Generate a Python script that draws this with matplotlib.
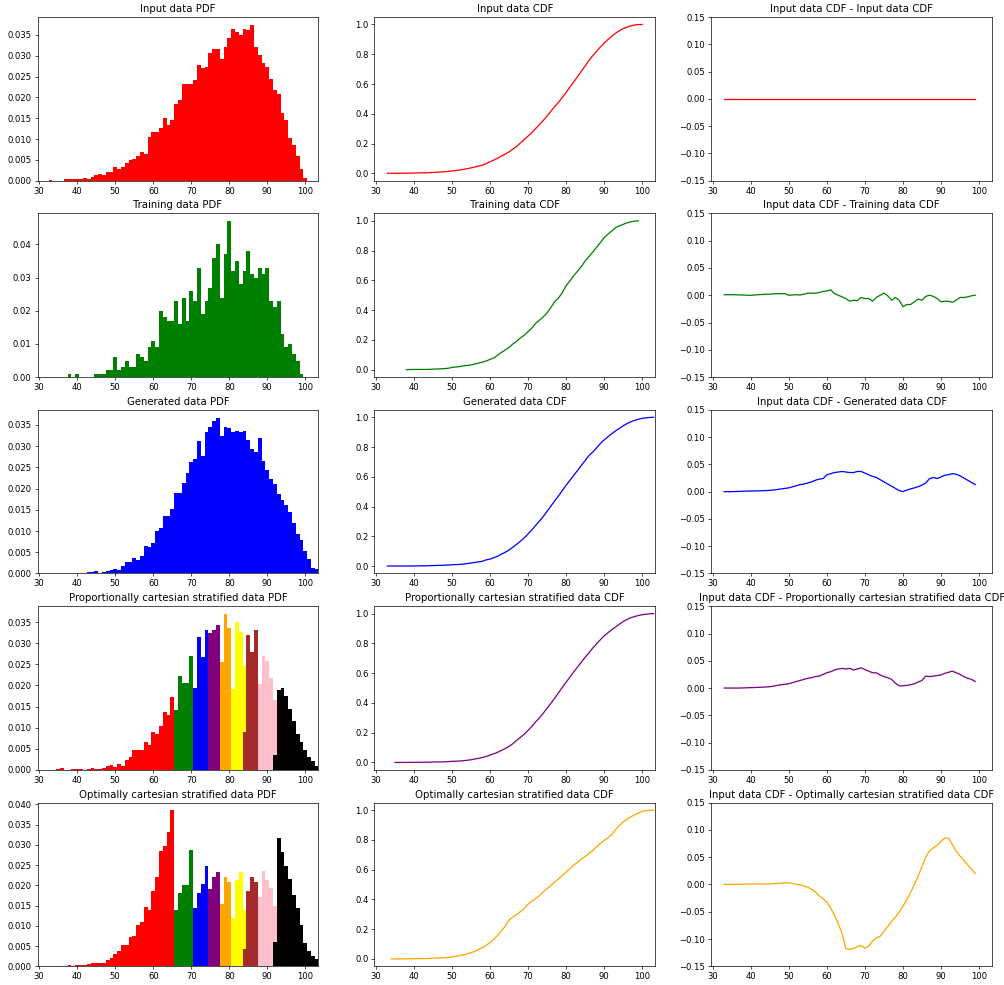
import numpy as np
import matplotlib
matplotlib.use("Agg")
import matplotlib.pyplot as plt

# ---------------------------------------------------------------------------
# Histogram heights (density per unit-wide bin centred on integer scores)
# ---------------------------------------------------------------------------
input_start = 33
input_pdf = [0.0002, 0.0, 0.0, 0.0, 0.0003, 0.0003, 0.0005, 0.0004, 0.0005, 0.0006,
             0.0005, 0.0010, 0.0014, 0.0016, 0.0014, 0.0020, 0.0020, 0.0032, 0.0028, 0.0034,
             0.0042, 0.0050, 0.0052, 0.0060, 0.0068, 0.0065, 0.0105, 0.0118, 0.0116, 0.0126,
             0.0151, 0.0133, 0.0145, 0.0184, 0.0194, 0.0231, 0.0231, 0.0231, 0.0242, 0.0277,
             0.0270, 0.0273, 0.0306, 0.0316, 0.0317, 0.0292, 0.0322, 0.0342, 0.0364, 0.0357,
             0.0349, 0.0364, 0.0362, 0.0374, 0.0320, 0.0301, 0.0282, 0.0272, 0.0245, 0.0218,
             0.0209, 0.0162, 0.0146, 0.0102, 0.0086, 0.0060, 0.0028, 0.0006]

train_start = 38
train_pdf = [0.001, 0.0, 0.001, 0.0, 0.0, 0.0, 0.0, 0.001, 0.001, 0.001,
             0.002, 0.002, 0.006, 0.002, 0.003, 0.005, 0.003, 0.003, 0.007, 0.006,
             0.005, 0.009, 0.011, 0.009, 0.020, 0.018, 0.017, 0.017, 0.023, 0.016,
             0.024, 0.017, 0.026, 0.023, 0.033, 0.019, 0.023, 0.027, 0.036, 0.040,
             0.024, 0.037, 0.047, 0.032, 0.035, 0.028, 0.032, 0.038, 0.031, 0.030,
             0.033, 0.031, 0.033, 0.023, 0.021, 0.023, 0.013, 0.009, 0.010, 0.007,
             0.005, 0.001]

gen_start = 33
gen_pdf = [0.0001, 0.0, 0.0001, 0.0001, 0.0001, 0.0, 0.0001, 0.0001, 0.0001, 0.0002,
           0.0003, 0.0003, 0.0006, 0.0002, 0.0004, 0.0007, 0.0009, 0.0011, 0.0009, 0.0017,
           0.0028, 0.0026, 0.0036, 0.0032, 0.0042, 0.0065, 0.0063, 0.0072, 0.0100, 0.0108,
           0.0135, 0.0136, 0.0152, 0.0189, 0.0189, 0.0214, 0.0237, 0.0263, 0.0269, 0.0311,
           0.0277, 0.0334, 0.0346, 0.0360, 0.0367, 0.0323, 0.0346, 0.0342, 0.0332, 0.0336,
           0.0332, 0.0336, 0.0315, 0.0293, 0.0286, 0.0319, 0.0266, 0.0244, 0.0222, 0.0211,
           0.0187, 0.0174, 0.0162, 0.0144, 0.0118, 0.0093, 0.0079, 0.0054, 0.0034, 0.0013,
           0.0010]

# Strata of the stratified samples, each with its own colour and first score
strata_colors = ["red", "green", "blue", "purple", "orange", "yellow", "brown", "pink", "black"]

prop_starts = [35, 66, 71, 75, 78, 81, 84, 88, 92]
prop_red = [0.0002, 0.0004, 0.0, 0.0, 0.0002, 0.0002, 0.0002, 0.0, 0.0003, 0.0005,
            0.0002, 0.0003, 0.0005, 0.0009, 0.0012, 0.0008, 0.0013, 0.0009, 0.0024, 0.0030,
            0.0048, 0.0046, 0.0046, 0.0065, 0.0060, 0.0089, 0.0086, 0.0103, 0.0136, 0.0131,
            0.0172]
prop_green = [0.0141, 0.0223, 0.0205, 0.0205, 0.0270]
prop_blue = [0.0195, 0.0314, 0.0267, 0.0330]
prop_purple = [0.0324, 0.0330, 0.0343]
prop_orange = [0.0256, 0.0369, 0.0335]
prop_yellow = [0.0192, 0.0350, 0.0326, 0.0245]
prop_brown = [0.0090, 0.0320, 0.0280, 0.0330]
prop_pink = [0.0203, 0.0270, 0.0258, 0.0218, 0.0165]
prop_black = [0.0035, 0.0188, 0.0195, 0.0175, 0.0145, 0.0115, 0.0085, 0.0065, 0.0048, 0.0030,
              0.0020, 0.0010]

opt_starts = [38, 66, 71, 75, 78, 81, 84, 88, 92]
opt_red = [0.0002, 0.0001, 0.0002, 0.0002, 0.0003, 0.0005, 0.0009, 0.0008, 0.0007, 0.0007,
           0.0015, 0.0020, 0.0030, 0.0037, 0.0052, 0.0052, 0.0073, 0.0075, 0.0101, 0.0110,
           0.0146, 0.0138, 0.0186, 0.0221, 0.0285, 0.0296, 0.0331, 0.0385]
opt_green = [0.0140, 0.0180, 0.0202, 0.0202, 0.0287]
opt_blue = [0.0143, 0.0180, 0.0203, 0.0248]
opt_purple = [0.0192, 0.0220, 0.0232]
opt_orange = [0.0153, 0.0220, 0.0208]
opt_yellow = [0.0120, 0.0212, 0.0232, 0.0138]
opt_brown = [0.0043, 0.0185, 0.0220, 0.0208]
opt_pink = [0.0172, 0.0235, 0.0212, 0.0193, 0.0150]
opt_black = [0.0060, 0.0317, 0.0283, 0.0247, 0.0215, 0.0175, 0.0143, 0.0103, 0.0058, 0.0038,
             0.0025, 0.0018]

# ---------------------------------------------------------------------------
# Input CDF minus each sample's CDF, on scores 33..99
# ---------------------------------------------------------------------------
diff_start = 33
train_diff = [0.001, 0.001, 0.001, 0.001, 0.0005, 0.0005, 0.0, 0.0, 0.0005, 0.001,
              0.0015, 0.002, 0.002, 0.0025, 0.003, 0.003, 0.003, 0.0, 0.0005, 0.001,
              0.0005, 0.002, 0.004, 0.0035, 0.004, 0.005, 0.007, 0.008, 0.010, 0.003,
              0.0, -0.003, -0.006, -0.011, -0.009, -0.010, -0.004, -0.006, -0.006, -0.011,
              -0.004, 0.0, 0.004, -0.001, -0.009, -0.004, -0.009, -0.021, -0.017, -0.017,
              -0.012, -0.007, -0.009, -0.002, 0.0, -0.002, -0.006, -0.012, -0.011, -0.011,
              -0.013, -0.009, -0.004, -0.004, -0.003, -0.001, 0.0]
gen_diff = [0.0, 0.0, 0.0, 0.0003, 0.0005, 0.0008, 0.001, 0.0012, 0.0013, 0.0015,
            0.0017, 0.002, 0.0025, 0.003, 0.004, 0.005, 0.006, 0.007, 0.009, 0.011,
            0.013, 0.014, 0.016, 0.018, 0.021, 0.023, 0.024, 0.031, 0.033, 0.035,
            0.036, 0.037, 0.036, 0.035, 0.035, 0.037, 0.037, 0.034, 0.031, 0.028,
            0.026, 0.022, 0.018, 0.014, 0.010, 0.006, 0.002, 0.0, 0.003, 0.005,
            0.007, 0.009, 0.012, 0.016, 0.024, 0.026, 0.024, 0.027, 0.030, 0.031,
            0.033, 0.032, 0.029, 0.025, 0.021, 0.017, 0.013]
prop_diff = [0.0, 0.0, 0.0, 0.0, 0.0, 0.0003, 0.0005, 0.0008, 0.001, 0.0013,
             0.0016, 0.002, 0.0025, 0.0035, 0.005, 0.006, 0.007, 0.008, 0.010, 0.012,
             0.014, 0.016, 0.018, 0.019, 0.021, 0.022, 0.025, 0.028, 0.030, 0.033,
             0.035, 0.036, 0.035, 0.036, 0.033, 0.035, 0.037, 0.034, 0.031, 0.028,
             0.028, 0.024, 0.021, 0.019, 0.016, 0.009, 0.004, 0.004, 0.005, 0.006,
             0.008, 0.011, 0.014, 0.022, 0.021, 0.022, 0.023, 0.024, 0.027, 0.029,
             0.031, 0.028, 0.025, 0.021, 0.018, 0.016, 0.012]
opt_diff = [0.0, 0.0, 0.0, 0.0, 0.0003, 0.0005, 0.0005, 0.0008, 0.001, 0.0012,
            0.001, 0.0008, 0.001, 0.0015, 0.002, 0.0025, 0.003, 0.0028, 0.0015, 0.0,
            -0.001, -0.003, -0.005, -0.009, -0.014, -0.021, -0.026, -0.033, -0.043, -0.057,
            -0.072, -0.090, -0.118, -0.119, -0.117, -0.114, -0.112, -0.117, -0.113, -0.104,
            -0.098, -0.095, -0.086, -0.077, -0.068, -0.060, -0.051, -0.040, -0.028, -0.015,
            0.0, 0.015, 0.033, 0.050, 0.062, 0.067, 0.072, 0.079, 0.085, 0.085,
            0.073, 0.061, 0.052, 0.044, 0.036, 0.028, 0.020]

# CDF values above 99 for the samples that reach beyond the input range
tail_scores = [100, 101, 102, 103]
gen_tail = [0.993, 0.996, 0.999, 1.0]
prop_tail = [0.993, 0.996, 0.999, 1.0]
opt_tail = [0.992, 0.995, 0.998, 1.0]

# First score of each sample's CDF line
train_cdf_start, gen_cdf_start, prop_cdf_start, opt_cdf_start = 38, 33, 35, 34

XLIM = (29.6, 103.4)
DPI = 61


def scores(start, values):
    return np.arange(start, start + len(values))


def draw_pdf(ax, start, values, color):
    ax.bar(scores(start, values), values, width=1.0, color=color, linewidth=0)


# Input CDF from the input histogram
input_x = scores(input_start, input_pdf)
input_cdf = np.cumsum(input_pdf) / np.sum(input_pdf)

diff_x = scores(diff_start, train_diff)
input_cdf_on_diff = np.interp(diff_x, input_x, input_cdf)


def sample_cdf(diff, first, tail=None):
    x = diff_x.copy()
    y = input_cdf_on_diff - np.asarray(diff)
    keep = x >= first
    x, y = x[keep], y[keep]
    if tail is not None:
        x = np.concatenate([x, tail_scores])
        y = np.concatenate([y, tail])
    return x, y


fig, axes = plt.subplots(5, 3, figsize=(1004 / DPI, 985 / DPI), dpi=DPI)
fig.subplots_adjust(left=0.0375, right=0.988, bottom=0.019, top=0.9827,
                    wspace=0.2, hspace=0.2)

rows = [
    ("Input data", "red"),
    ("Training data", "green"),
    ("Generated data", "blue"),
    ("Proportionally cartesian stratified data", "purple"),
    ("Optimally cartesian stratified data", "orange"),
]

# Column 1: histograms
draw_pdf(axes[0, 0], input_start, input_pdf, "red")
draw_pdf(axes[1, 0], train_start, train_pdf, "green")
draw_pdf(axes[2, 0], gen_start, gen_pdf, "blue")
prop_groups = [prop_red, prop_green, prop_blue, prop_purple, prop_orange,
               prop_yellow, prop_brown, prop_pink, prop_black]
opt_groups = [opt_red, opt_green, opt_blue, opt_purple, opt_orange,
              opt_yellow, opt_brown, opt_pink, opt_black]
for start, vals, c in zip(prop_starts, prop_groups, strata_colors):
    draw_pdf(axes[3, 0], start, vals, c)
for start, vals, c in zip(opt_starts, opt_groups, strata_colors):
    draw_pdf(axes[4, 0], start, vals, c)
axes[4, 0].set_yticks(np.arange(0, 0.0401, 0.005))

# Column 2: CDFs
axes[0, 1].plot(input_x, input_cdf, color="red")
tx, ty = sample_cdf(train_diff, train_cdf_start)
axes[1, 1].plot(tx, ty, color="green")
gx, gy = sample_cdf(gen_diff, gen_cdf_start, gen_tail)
axes[2, 1].plot(gx, gy, color="blue")
px, py = sample_cdf(prop_diff, prop_cdf_start, prop_tail)
axes[3, 1].plot(px, py, color="purple")
ox, oy = sample_cdf(opt_diff, opt_cdf_start, opt_tail)
axes[4, 1].plot(ox, oy, color="orange")

# Column 3: CDF differences
axes[0, 2].plot(diff_x, input_cdf_on_diff - input_cdf_on_diff, color="red")
axes[1, 2].plot(diff_x, train_diff, color="green")
axes[2, 2].plot(diff_x, gen_diff, color="blue")
axes[3, 2].plot(diff_x, prop_diff, color="purple")
axes[4, 2].plot(diff_x, opt_diff, color="orange")

for i, (name, color) in enumerate(rows):
    axes[i, 0].set_title(f"{name} PDF")
    axes[i, 1].set_title(f"{name} CDF")
    axes[i, 2].set_title(f"Input data CDF - {name} CDF")
    axes[i, 2].set_ylim(-0.15, 0.15)
    for j in range(3):
        axes[i, j].set_xlim(*XLIM)
        axes[i, j].set_xticks(range(30, 101, 10))

fig.savefig("out.png", dpi=DPI)
